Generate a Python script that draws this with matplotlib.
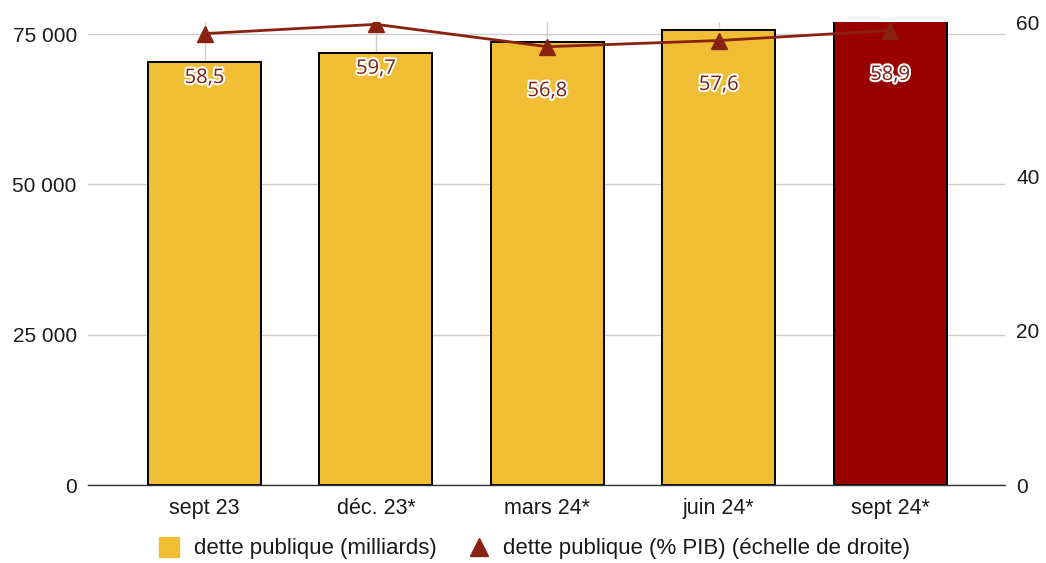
import matplotlib
matplotlib.use("Agg")
import matplotlib.pyplot as plt
import matplotlib.patheffects as pe
from matplotlib.ticker import FuncFormatter
from matplotlib.lines import Line2D

# donnees
categories = ["sept 23", "déc. 23*", "mars 24*", "juin 24*", "sept 24*"]
dette_milliards = [70350, 71900, 73750, 75650, 78200]
dette_pib = [58.5, 59.7, 56.8, 57.6, 58.9]
labels_pib = ["58,5", "59,7", "56,8", "57,6", "58,9"]
bar_colors = ["#EFBE34", "#EFBE34", "#EFBE34", "#EFBE34", "#990000"]

plt.rcParams['font.family'] = ['Liberation Sans', 'DejaVu Sans']

fig = plt.figure(figsize=(10.46, 5.63), dpi=100)
ax = fig.add_axes([0.0841, 0.1385, 0.8767, 0.8224])
ax2 = ax.twinx()

x = list(range(len(categories)))

# barres (echelle de gauche)
ax.bar(x, dette_milliards, width=0.66, color=bar_colors, edgecolor="black",
       linewidth=1.4, zorder=3)
ax.set_ylim(0, 77000)
ax.set_xlim(-0.68, 4.67)
ax.set_yticks([0, 25000, 50000, 75000])
ax.yaxis.set_major_formatter(FuncFormatter(lambda v, p: f"{int(v):,}".replace(",", " ")))
ax.set_xticks(x)
ax.set_xticklabels(categories)
ax.grid(True, color="#cccccc", linewidth=1, zorder=0)
ax.set_axisbelow(True)
for s in ["top", "right", "left"]:
    ax.spines[s].set_visible(False)
ax.spines["bottom"].set_color("#333333")
ax.spines["bottom"].set_linewidth(1)
ax.spines["bottom"].set_zorder(4)
ax.tick_params(axis="y", length=0, pad=8, labelsize=15, labelcolor="#1a1a1a")
ax.tick_params(axis="x", length=0, pad=9, labelsize=15.5, labelcolor="#1a1a1a")

# ligne (echelle de droite)
line_color = "#8A2212"
ax2.plot(x, dette_pib, color=line_color, linewidth=2, marker="^",
         markersize=12, zorder=5)
ax2.set_ylim(0, 60)
ax2.set_yticks([0, 20, 40, 60])
for s in ["top", "right", "left", "bottom"]:
    ax2.spines[s].set_visible(False)
ax2.tick_params(axis="y", length=0, pad=8, labelsize=15, labelcolor="#1a1a1a")

for xi, yi, lab in zip(x, dette_pib, labels_pib):
    ax2.annotate(lab, (xi, yi), xytext=(0, -32), textcoords="offset points",
                 ha="center", va="center", fontsize=14.5, color="#7B1F13",
                 family=["Open Sans", "DejaVu Sans"],
                 path_effects=[pe.withStroke(linewidth=3, foreground="white")],
                 zorder=6)

# legende
handles = [
    Line2D([0], [0], marker="s", linestyle="none", markersize=15,
           markerfacecolor="#EFBE34", markeredgecolor="#EFBE34"),
    Line2D([0], [0], marker="^", linestyle="none", markersize=13,
           markerfacecolor="#8A2212", markeredgecolor="#8A2212"),
]
fig.legend(handles, ["dette publique (milliards)", "dette publique (% PIB) (échelle de droite)"],
           loc="center", bbox_to_anchor=(0.5096, 0.0249), ncol=2, frameon=False,
           fontsize=16, handlelength=1.2, handletextpad=0.5, columnspacing=1.3,
           labelcolor="#1a1a1a")

fig.savefig("out.png", dpi=100)
